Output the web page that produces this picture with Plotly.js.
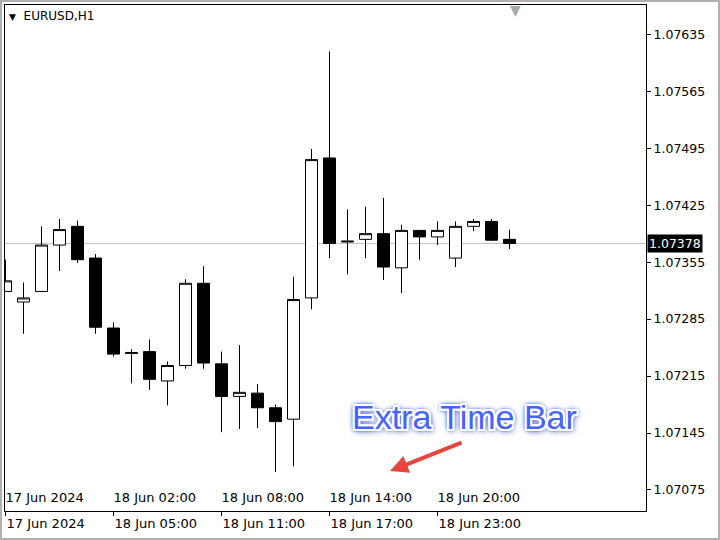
<!DOCTYPE html>
<html>
<head>
<meta charset="utf-8">
<script src="https://cdn.plot.ly/plotly-3.0.1.min.js"></script>
<style>
  html, body { margin: 0; padding: 0; background: #ffffff; }
  #wrap { position: relative; width: 720px; height: 540px; }
  #chart { position: absolute; left: 0; top: 0; width: 720px; height: 540px; }
  #frame { position: absolute; left: 0; top: 0; width: 720px; height: 540px; box-sizing: border-box;
           border: 2px solid #b0b0b0; pointer-events: none; }
</style>
</head>
<body>
<div id="wrap"><div id="chart"></div><div id="frame"></div></div>
<script>
// ---- data (EURUSD H1) ----
const symbol = "EURUSD,H1";
const times = [
  "2024-06-17 23:00", "2024-06-18 00:00", "2024-06-18 01:00", "2024-06-18 02:00",
  "2024-06-18 03:00", "2024-06-18 04:00", "2024-06-18 05:00", "2024-06-18 06:00",
  "2024-06-18 07:00", "2024-06-18 08:00", "2024-06-18 09:00", "2024-06-18 10:00",
  "2024-06-18 11:00", "2024-06-18 12:00", "2024-06-18 13:00", "2024-06-18 14:00",
  "2024-06-18 15:00", "2024-06-18 16:00", "2024-06-18 17:00", "2024-06-18 18:00",
  "2024-06-18 19:00", "2024-06-18 20:00", "2024-06-18 21:00", "2024-06-18 22:00",
  "2024-06-18 23:00", "2024-06-19 00:00", "2024-06-19 01:00", "2024-06-19 02:00",
  "2024-06-19 03:00"
];
const opens = [
  1.07319, 1.07306, 1.07319, 1.07376, 1.07399, 1.07360, 1.07274, 1.07244,
  1.07245, 1.07209, 1.07228, 1.07329, 1.07230, 1.07190, 1.07194, 1.07176,
  1.07162, 1.07311, 1.07483, 1.07381, 1.07383, 1.07390, 1.07348, 1.07394,
  1.07386, 1.07360, 1.07399, 1.07405, 1.07383
];
const highs = [
  1.07358, 1.07330, 1.07399, 1.07408, 1.07406, 1.07365, 1.07281, 1.07248,
  1.07260, 1.07233, 1.07334, 1.07350, 1.07245, 1.07253, 1.07205, 1.07180,
  1.07337, 1.07494, 1.07614, 1.07420, 1.07423, 1.07434, 1.07401, 1.07394,
  1.07405, 1.07405, 1.07408, 1.07408, 1.07395
];
const lows = [
  1.07319, 1.07267, 1.07319, 1.07344, 1.07354, 1.07267, 1.07239, 1.07206,
  1.07198, 1.07179, 1.07224, 1.07224, 1.07146, 1.07150, 1.07151, 1.07097,
  1.07104, 1.07297, 1.07360, 1.07340, 1.07360, 1.07333, 1.07317, 1.07358,
  1.07376, 1.07349, 1.07393, 1.07381, 1.07371
];
const closes = [
  1.07332, 1.07311, 1.07376, 1.07395, 1.07358, 1.07275, 1.07242, 1.07243,
  1.07211, 1.07228, 1.07329, 1.07231, 1.07190, 1.07195, 1.07176, 1.07159,
  1.07309, 1.07481, 1.07378, 1.07380, 1.07390, 1.07349, 1.07394, 1.07386,
  1.07394, 1.07399, 1.07405, 1.07382, 1.07378
];
// price scale ticks
const priceTicks = [1.07075, 1.07145, 1.07215, 1.07285, 1.07355, 1.07425, 1.07495, 1.07565, 1.07635];
// time scale: tick positions and the two label rows
const timeTickVals = ["2024-06-17 23:00", "2024-06-18 05:00", "2024-06-18 11:00", "2024-06-18 17:00", "2024-06-18 23:00"];
const timeLabelsLower = ["17 Jun 2024", "18 Jun 05:00", "18 Jun 11:00", "18 Jun 17:00", "18 Jun 23:00"];
const timeLabelsUpper = ["17 Jun 2024", "18 Jun 02:00", "18 Jun 08:00", "18 Jun 14:00", "18 Jun 20:00"];
const xRange = ["2024-06-17 22:58:20", "2024-06-19 10:35:00"];
const yRange = [1.0704916, 1.07671];

const lastClose = closes[closes.length - 1];
const FONT = "DejaVu Sans, Verdana, sans-serif";

const candles = {
  type: "candlestick",
  x: times, open: opens, high: highs, low: lows, close: closes,
  increasing: { line: { color: "#000000", width: 1 }, fillcolor: "#ffffff" },
  decreasing: { line: { color: "#000000", width: 1 }, fillcolor: "#000000" },
  whiskerwidth: 0,
  showlegend: false,
  hoverinfo: "x+y"
};
// carrier for the second (upper) time-label row; draws nothing visible
const upperScale = {
  type: "scatter", mode: "markers", xaxis: "x2", yaxis: "y",
  x: times, y: closes, marker: { opacity: 0, size: 1 },
  showlegend: false, hoverinfo: "skip"
};

const outline = [
  "1px 0 0 #fff", "-1px 0 0 #fff", "0 1px 0 #fff", "0 -1px 0 #fff",
  "2px 0 0 #fff", "-2px 0 0 #fff", "0 2px 0 #fff", "0 -2px 0 #fff",
  "2px 2px 0 #fff", "-2px -2px 0 #fff", "2px -2px 0 #fff", "-2px 2px 0 #fff",
  "0 0 3px #2a4dff", "0 0 3px #2a4dff", "0 0 4px #2a4dff", "0 0 5px #2a4dff", "0 0 6px #2a4dff",
  "2px 3px 6px rgba(0,0,0,0.35)"
].join(", ");

const layout = {
  width: 720, height: 540,
  margin: { l: 5, r: 74, t: 5, b: 29, pad: 0 },
  paper_bgcolor: "#ffffff",
  plot_bgcolor: "#ffffff",
  boxgap: 0.333, boxgroupgap: 0,
  title: {
    text: "<span style='font-size:9px'>▼</span>  " + symbol,
    x: 0.0125, xanchor: "left", xref: "container",
    y: 0.9704, yanchor: "middle", yref: "container",
    font: { family: FONT, size: 12, color: "#000000" }
  },
  xaxis: {
    type: "date", range: xRange, rangeslider: { visible: false },
    showgrid: false, zeroline: false,
    showline: true, mirror: true, linecolor: "#000000", linewidth: 1,
    tickmode: "array", tickvals: timeTickVals, ticktext: timeLabelsLower,
    ticks: "outside", ticklen: 4, tickcolor: "#000000",
    ticklabelposition: "outside right",
    tickfont: { family: FONT, size: 13, color: "#000000" },
    automargin: false, fixedrange: true
  },
  xaxis2: {
    type: "date", overlaying: "x", matches: "x", side: "bottom", range: xRange,
    showgrid: false, zeroline: false, showline: false,
    tickmode: "array", tickvals: timeTickVals, ticktext: timeLabelsUpper,
    ticks: "", ticklabelposition: "inside right",
    tickfont: { family: FONT, size: 13, color: "#000000" },
    automargin: false, fixedrange: true
  },
  yaxis: {
    side: "right", range: yRange,
    showgrid: false, zeroline: false,
    showline: true, mirror: true, linecolor: "#000000", linewidth: 1,
    tickmode: "array", tickvals: priceTicks, ticktext: priceTicks.map(v => v.toFixed(5)),
    ticks: "outside", ticklen: 4, tickcolor: "#000000",
    tickfont: { family: FONT, size: 12.5, color: "#000000" },
    automargin: false, fixedrange: true
  },
  shapes: [
    { type: "line", xref: "paper", x0: 0, x1: 1, yref: "y", y0: lastClose, y1: lastClose,
      line: { color: "#c0c0c0", width: 1 }, layer: "below" }
  ],
  annotations: [
    { xref: "paper", x: 1.0015, xanchor: "left", yref: "y", y: lastClose, yanchor: "middle",
      text: lastClose.toFixed(5), showarrow: false, bgcolor: "#000000", borderpad: 1,
      font: { family: FONT, size: 12.5, color: "#ffffff" } },
    { xref: "paper", x: 0.797, xanchor: "center", yref: "paper", y: 1.0, yanchor: "top", yshift: 5,
      text: "▼", showarrow: false, font: { family: FONT, size: 14, color: "#a8a8a8" } },
    { xref: "paper", x: 0.7176, xanchor: "center", yref: "paper", y: 0.1858, yanchor: "middle",
      text: "Extra Time Bar", showarrow: false,
      font: { family: "Liberation Sans, Arial, sans-serif", size: 34, color: "#4563ff", shadow: outline } },
    { xref: "paper", x: 0.6006, yref: "paper", y: 0.079, text: "", showarrow: true,
      ax: 73, ay: -29, arrowcolor: "#e8453c", arrowwidth: 4, arrowhead: 2, arrowsize: 0.9 }
  ]
};

Plotly.newPlot("chart", [candles, upperScale], layout, { displayModeBar: false, staticPlot: true });
</script>
</body>
</html>
